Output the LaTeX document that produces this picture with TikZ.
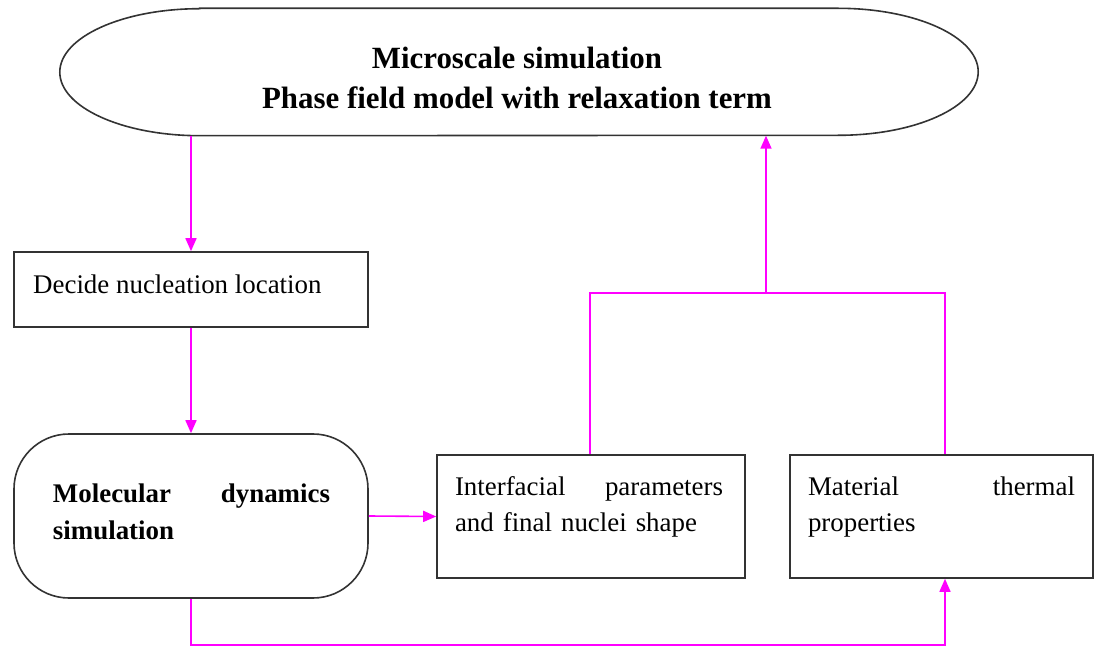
\documentclass[tikz,border=0pt]{standalone}
\usepackage{fontspec}
\setmainfont{Liberation Serif}
\usetikzlibrary{arrows.meta}
\definecolor{mag}{RGB}{255,0,255}
\begin{document}
\begin{tikzpicture}[x=1bp,y=-1bp,
  box/.style={draw=black!80, line width=1.6bp, rectangle, inner sep=0pt},
  txt/.style={inner sep=0pt, font=\fontsize{27}{36}\selectfont},
  btxt/.style={inner sep=0pt, font=\fontsize{27}{37}\selectfont\bfseries},
  link/.style={draw=mag, line width=1.6bp},
  arr/.style={link, -{Triangle[length=13bp,width=11bp]}}]
\useasboundingbox (0,0) rectangle (1097,647);

% top stadium
\node[minimum width=918bp, minimum height=127bp, inner sep=0pt] (top) at (519,72) {};
\draw[black!80, line width=1.6bp] ([xshift=140bp]top.north west) -- ([xshift=-140bp]top.north east)
  arc[start angle=90, end angle=-90, x radius=140bp, y radius=63.5bp]
  -- ([xshift=140bp]top.south west)
  arc[start angle=270, end angle=90, x radius=140bp, y radius=63.5bp] -- cycle;
\node[inner sep=0pt, font=\fontsize{31}{40}\selectfont\bfseries, align=center] (topt) at (517,78)
  {Microscale simulation\\Phase field model with relaxation term};

% decide box
\node[box, minimum width=354bp, minimum height=75bp] (dec) at (191,289.5) {};
\node[txt, anchor=west] (dect) at (33,284) {Decide nucleation location};

% molecular dynamics
\node[box, rounded corners=55bp, minimum width=354bp, minimum height=164bp] (md) at (191,516) {};
\node[btxt, text width=277bp, align=left] (mdt) at (191.5,511.5) {Molecular\hfill dynamics\\simulation};

% interfacial
\node[box, minimum width=308bp, minimum height=123bp] (inter) at (591,516.5) {};
\node[txt, text width=268bp, align=left] (intert) at (589,507) {Interfacial\hfill parameters\\and final nuclei shape};

% material
\node[box, minimum width=303bp, minimum height=123bp] (mat) at (941.5,516.5) {};
\node[txt, text width=267bp, align=left] (matt) at (941.5,507) {Material\hfill thermal\\properties};

% junctions
\coordinate (j1) at (590,293);
\coordinate (j2) at (945,293);
\coordinate (jm) at (766,293);
\coordinate (b1) at (191,645);
\coordinate (b2) at (945,645);

\draw[arr] (top.south -| dec.north) -- (dec.north);
\draw[arr] (dec.south) -- (md.north);
\draw[arr] (md.east) -- (inter.west);
\draw[link] (inter.north -| j1) -- (j1) -- (j2) -- (mat.north -| j2);
\draw[arr] (jm) -- (top.south -| jm);
\draw[arr] (md.south) -- (b1) -- (b2) -- (mat.south -| b2);
\end{tikzpicture}
\end{document}
